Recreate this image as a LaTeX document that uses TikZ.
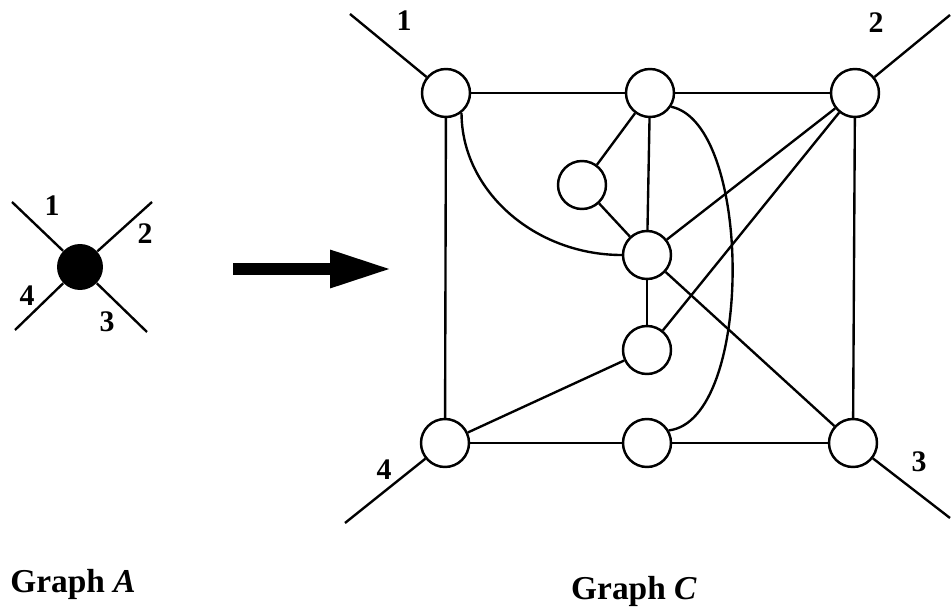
\documentclass[tikz,border=0pt]{standalone}
\usepackage{fontspec}
\setmainfont{Liberation Serif}
\usetikzlibrary{arrows.meta}

\begin{document}
\begin{tikzpicture}[
  x=0.02cm, y=-0.02cm,
  vtx/.style    ={draw, circle, line width=1.4pt, minimum size=0.96cm, inner sep=0pt, fill=white},
  hub/.style    ={circle, fill=black, minimum size=0.92cm, inner sep=0pt},
  edge/.style   ={line width=1.35pt},
  port/.style   ={font=\fontsize{17}{20}\selectfont\bfseries},
  caption/.style={font=\fontsize{19}{22}\selectfont\bfseries, anchor=base},
  bigarr/.style ={line width=0.24cm, -{Triangle[length=1.24cm,width=0.7cm]}}
]
\useasboundingbox (0,0) rectangle (951,611);

% ---- Graph A: one vertex, four ports ----
\node[hub] (dot) at (80,267) {};
\coordinate (a1) at (12,202);
\coordinate (a2) at (152,202);
\coordinate (a3) at (147,332);
\coordinate (a4) at (15,330);
\draw[edge] (a1) -- (dot); \draw[edge] (a2) -- (dot);
\draw[edge] (a3) -- (dot); \draw[edge] (a4) -- (dot);
\node[port] at (52,206) {1};
\node[port] at (145,234) {2};
\node[port] at (107,322) {3};
\node[port] at (27,296) {4};

% ---- replacement arrow ----
\coordinate (ar1) at (233,269);
\coordinate (ar2) at (392,269);
\draw[bigarr] (ar1) -- (ar2);

% ---- Graph C: vertices ----
\node[vtx] (c1)  at (446,93)  {};
\node[vtx] (top) at (650,93)  {};
\node[vtx] (c2)  at (855,93)  {};
\node[vtx] (sm)  at (582,185) {};
\node[vtx] (ctr) at (647,255) {};
\node[vtx] (low) at (647,350) {};
\node[vtx] (c4)  at (445,443) {};
\node[vtx] (bot) at (647,443) {};
\node[vtx] (c3)  at (853,443) {};

% frame
\draw[edge] (c1) -- (top); \draw[edge] (top) -- (c2);
\draw[edge] (c1) -- (c4);  \draw[edge] (c2) -- (c3);
\draw[edge] (c4) -- (bot); \draw[edge] (bot) -- (c3);

% inner edges
\draw[edge] (top) -- (sm);  \draw[edge] (sm) -- (ctr);
\draw[edge] (top) -- (ctr); \draw[edge] (ctr) -- (low);
\draw[edge] (ctr) -- (c2);  \draw[edge] (low) -- (c2);
\draw[edge] (ctr) -- (c3);  \draw[edge] (low) -- (c4);
\draw[edge] (c1.-52) .. controls +(0,78) and +(-87,0) .. (ctr.180);
\draw[edge] (top.-33) .. controls +(82,17) and +(85,-10) .. (bot.30);

% ports
\coordinate (e1) at (350,14);
\coordinate (e2) at (950,15);
\coordinate (e3) at (950,518);
\coordinate (e4) at (345,523);
\draw[edge] (e1) -- (c1); \draw[edge] (e2) -- (c2);
\draw[edge] (e3) -- (c3); \draw[edge] (e4) -- (c4);
\node[port] at (404,21)  {1};
\node[port] at (876,23)  {2};
\node[port] at (919,462) {3};
\node[port] at (384,470) {4};

% ---- captions ----
\node[caption] at (73,592)  {Graph \textit{A}};
\node[caption] at (634,600) {Graph \textit{C}};

\end{tikzpicture}
\end{document}
